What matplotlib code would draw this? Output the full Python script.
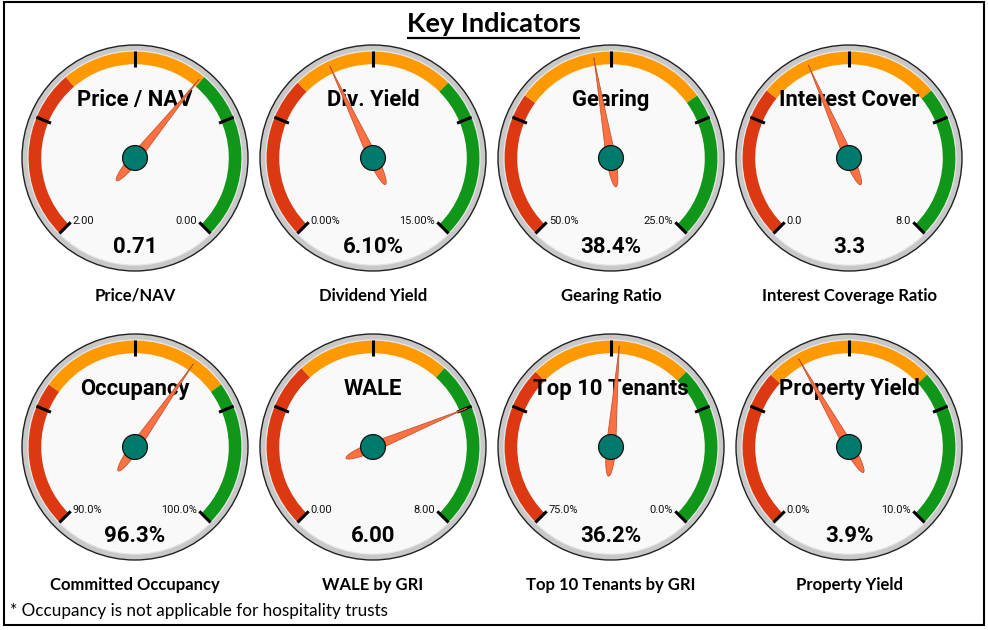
import numpy as np
import matplotlib
matplotlib.use("Agg")
import matplotlib.pyplot as plt
from matplotlib.patches import Circle, Wedge, Polygon, Rectangle

# ---------------- data ----------------
gauge_titles = ["Price / NAV", "Div. Yield", "Gearing", "Interest Cover",
                "Occupancy", "WALE", "Top 10 Tenants", "Property Yield"]
captions = ["Price/NAV", "Dividend Yield", "Gearing Ratio", "Interest Coverage Ratio",
            "Committed Occupancy", "WALE by GRI", "Top 10 Tenants by GRI", "Property Yield"]
scale_left = [2.0, 0.0, 50.0, 0.0, 90.0, 0.0, 75.0, 0.0]
scale_right = [0.0, 15.0, 25.0, 8.0, 100.0, 8.0, 0.0, 10.0]
values = [0.71, 6.10, 38.4, 3.3, 96.3, 6.00, 36.2, 3.9]
value_labels = ["0.71", "6.10%", "38.4%", "3.3", "96.3%", "6.00", "36.2%", "3.9%"]
left_labels = ["2.00", "0.00%", "50.0%", "0.0", "90.0%", "0.00", "75.0%", "0.0%"]
right_labels = ["0.00", "15.00%", "25.0%", "8.0", "100.0%", "8.00", "0.0%", "10.0%"]
red_until = [1.3, 5.0, 42.5, 2.5, 93.0, 2.75, 50.0, 3.25]
green_from = [0.7, 10.0, 32.5, 5.5, 97.0, 5.25, 25.0, 6.75]
title = "Key Indicators"
footnote = "* Occupancy is not applicable for hospitality trusts"

# ---------------- layout ----------------
W, H = 988, 630
fig = plt.figure(figsize=(W / 100, H / 100), dpi=100)
ax = fig.add_axes([0, 0, 1, 1])
ax.set_xlim(0, W)
ax.set_ylim(0, H)
ax.set_aspect("equal")
ax.axis("off")
fig.patch.set_facecolor("white")

col_x = [135, 373, 611, 849]
row_y = [H - 158, H - 447]
R = 113.0
RED, ORANGE, GREEN = "#dc3912", "#ff9900", "#109618"
GAUGE_FONT = "Roboto"
TEXT_FONT = "Lato"


def angle_of(v, lo, hi):
    frac = (v - lo) / (hi - lo)
    frac = min(max(frac, 0.0), 1.0)
    return 225.0 - 270.0 * frac


def needle_polygon(cx, cy, ang):
    tip = 0.90 * R
    tail = 0.26 * R
    w0 = 0.042 * R
    s_front = np.linspace(0, tip, 40)
    w_front = w0 * (1 - s_front / tip) ** 1.1
    s_back = np.linspace(0, -tail, 30)
    w_back = w0 * np.sqrt(np.clip(1 - (s_back / tail) ** 2, 0, 1))
    s = np.concatenate([s_front[::-1], s_back, s_back[::-1], s_front])
    w = np.concatenate([w_front[::-1], w_back, -w_back[::-1], -w_front])
    a = np.deg2rad(ang)
    xs = cx + s * np.cos(a) - w * np.sin(a)
    ys = cy + s * np.sin(a) + w * np.cos(a)
    return np.column_stack([xs, ys])


for i in range(8):
    cx = col_x[i % 4]
    cy = row_y[i // 4]
    lo, hi = scale_left[i], scale_right[i]

    # bezel and face
    ax.add_patch(Circle((cx, cy), R, facecolor="#c8c8c8", edgecolor="#222222", lw=1.0, zorder=1))
    ax.add_patch(Circle((cx, cy), 0.948 * R, facecolor="#f9f9f9", edgecolor="#e6e6e6", lw=0.8, zorder=2))

    # colour bands
    a_red = angle_of(red_until[i], lo, hi)
    a_green = angle_of(green_from[i], lo, hi)
    r_out, band = 0.942 * R, 0.112 * R
    ax.add_patch(Wedge((cx, cy), r_out, a_red, 225, width=band, facecolor=RED, edgecolor="none", zorder=3))
    ax.add_patch(Wedge((cx, cy), r_out, a_green, a_red, width=band, facecolor=ORANGE, edgecolor="none", zorder=3))
    ax.add_patch(Wedge((cx, cy), r_out, -45, a_green, width=band, facecolor=GREEN, edgecolor="none", zorder=3))

    # major ticks
    for k in range(5):
        a = np.deg2rad(225 - 67.5 * k)
        r1, r2 = 0.805 * R, 0.945 * R
        ax.plot([cx + r1 * np.cos(a), cx + r2 * np.cos(a)],
                [cy + r1 * np.sin(a), cy + r2 * np.sin(a)],
                color="black", lw=2.2, solid_capstyle="butt", zorder=4)

    # texts inside gauge
    ax.text(cx, cy + 0.51 * R, gauge_titles[i], ha="center", va="center",
            fontsize=15.8, fontweight="bold", family=GAUGE_FONT, color="black", zorder=5)
    ax.text(cx, cy - 0.79 * R, value_labels[i], ha="center", va="center",
            fontsize=16, fontweight="bold", family=GAUGE_FONT, color="black", zorder=5)
    ax.text(cx - 0.55 * R, cy - 0.56 * R, left_labels[i], ha="left", va="center",
            fontsize=7.9, family=GAUGE_FONT, color="#111111", zorder=5)
    ax.text(cx + 0.55 * R, cy - 0.56 * R, right_labels[i], ha="right", va="center",
            fontsize=7.9, family=GAUGE_FONT, color="#111111", zorder=5)

    # needle and hub
    ang = angle_of(values[i], lo, hi)
    ax.add_patch(Polygon(needle_polygon(cx, cy, ang), closed=True, facecolor="#ff7043",
                         edgecolor="#c4562f", lw=0.6, zorder=6))
    ax.add_patch(Circle((cx, cy), 0.11 * R, facecolor="#007a6c", edgecolor="#111111", lw=0.9, zorder=7))

    # caption below gauge
    ax.text(cx, cy - 1.22 * R, captions[i], ha="center", va="center",
            fontsize=12, fontweight="bold", family=TEXT_FONT, color="black", zorder=5)

# frame
ax.add_patch(Rectangle((4, H - 625), 980, 623, facecolor="none", edgecolor="black", lw=1.5, zorder=0))

# title with underline
t = ax.text(493.5, H - 24, title, ha="center", va="center", fontsize=19.5,
            fontweight="bold", family=TEXT_FONT, color="black")
fig.canvas.draw()
bb = t.get_window_extent().transformed(ax.transData.inverted())
ax.plot([bb.x0, bb.x1], [H - 38, H - 38], color="black", lw=1.6, solid_capstyle="butt")

# footnote
ax.text(10, H - 611, footnote, ha="left", va="center", fontsize=12.3,
        family=TEXT_FONT, color="black")

fig.savefig("out.png", dpi=100, facecolor="white")
